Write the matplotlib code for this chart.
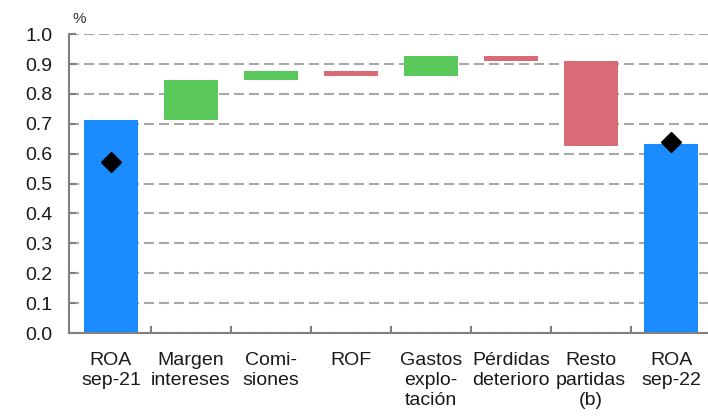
import matplotlib
matplotlib.use("Agg")
import matplotlib.pyplot as plt
import numpy as np

plt.rcParams["font.family"] = ["Liberation Sans", "DejaVu Sans"]

# == datos ==
categorias = ["ROA\nsep-21", "Margen\nintereses", "Comi-\nsiones", "ROF",
              "Gastos\nexplo-\ntación", "Pérdidas\ndeterioro",
              "Resto\npartidas\n(b)", "ROA\nsep-22"]
roa_inicial = 0.712
variaciones = [0.134, 0.030, -0.016, 0.066, -0.017, -0.283]
roa_final = 0.632
rombos = [0.572, 0.638]  # marcadores negros sobre los ROA

AZUL = "#1a8cff"
VERDE = "#5bc85b"
ROJO = "#d96b77"

# == cálculo de la cascada ==
x = np.arange(len(categorias))
alturas = [roa_inicial]
bases = [0.0]
colores = [AZUL]
nivel = roa_inicial
for v in variaciones:
    if v >= 0:
        bases.append(nivel)
    else:
        bases.append(nivel + v)
    alturas.append(abs(v))
    colores.append(VERDE if v >= 0 else ROJO)
    nivel += v
alturas.append(roa_final)
bases.append(0.0)
colores.append(AZUL)

fig = plt.figure(figsize=(7.08, 4.16), dpi=100)
ax = fig.add_axes([0.098, 0.1995, 0.902, 0.7185])

ax.set_axisbelow(True)
ax.yaxis.grid(True, color="#a8a8a8", linewidth=1.5, dashes=(4.8, 2.4))
ax.bar(x, alturas, bottom=bases, width=0.675, color=colores, zorder=2)
ax.plot([x[0], x[-1]], rombos, "D", color="black", markersize=10, zorder=3)

ax.set_xlim(-0.52, 7.46)
ax.set_ylim(0, 1.0)
ax.set_yticks(np.arange(0, 1.01, 0.1))
ax.set_yticklabels([f"{v:.1f}" for v in np.arange(0, 1.01, 0.1)])
ax.set_xticks(x[:-1] + 0.5, minor=False)
ax.set_xticklabels([])
ax.set_xticks(x, minor=True)
ax.set_xticklabels(categorias, minor=True)
ax.tick_params(axis="x", which="major", direction="in", length=5,
               width=1.5, color="#808080")
ax.tick_params(axis="x", which="minor", length=0, pad=14,
               labelsize=14, colors="#1a1a1a")
ax.tick_params(axis="y", direction="in", length=5, width=1.5,
               color="#808080", labelsize=14, labelcolor="#1a1a1a", pad=12)
for lab in ax.get_xticklabels(minor=True):
    lab.set_linespacing(1.2)

for lado in ["top", "right"]:
    ax.spines[lado].set_visible(False)
for lado in ["left", "bottom"]:
    ax.spines[lado].set_color("#808080")
    ax.spines[lado].set_linewidth(1.5)
    ax.spines[lado].set_zorder(4)

fig.text(0.102, 0.955, "%", fontsize=11, color="#333333", va="center")

fig.savefig("out.png", dpi=100)
